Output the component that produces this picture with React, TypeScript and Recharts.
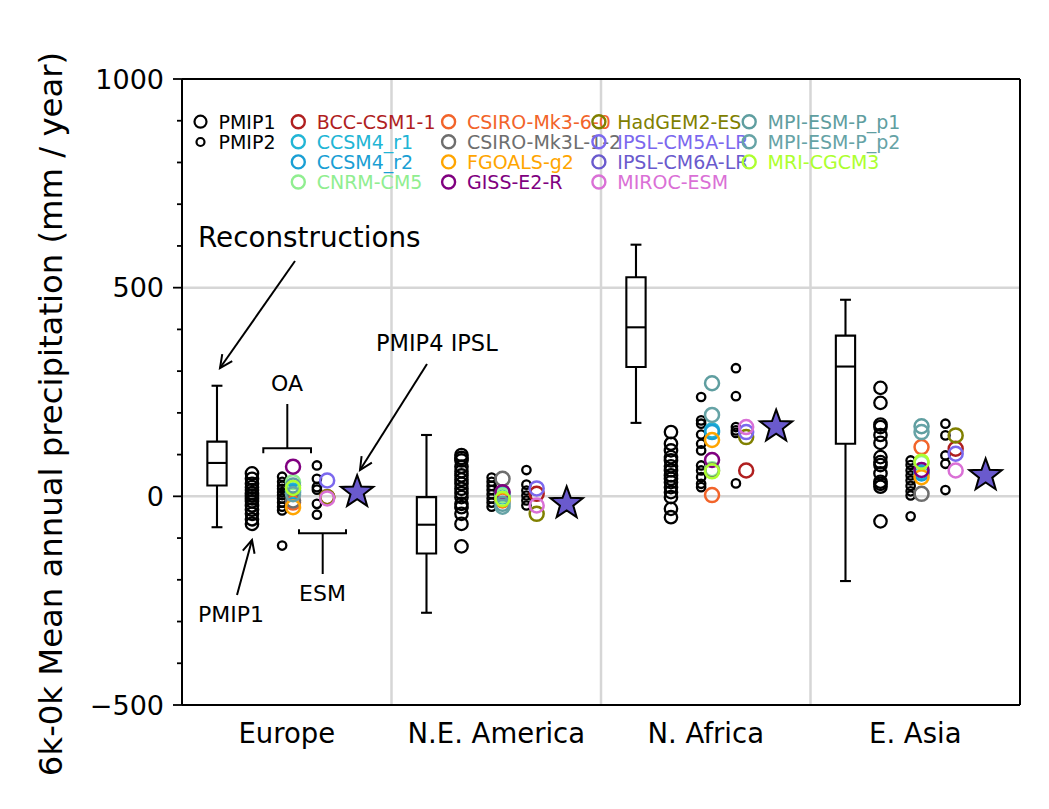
import React from 'react';
import {
  ComposedChart,
  Scatter,
  XAxis,
  YAxis,
  CartesianGrid,
  ReferenceArea,
  ReferenceLine,
} from 'recharts';

// ---------------- data ----------------
const regions = ['Europe', 'N.E. America', 'N. Africa', 'E. Asia'];
const yTickValues = [-500, -400, -300, -200, -100, 0, 100, 200, 300, 400, 500, 600, 700, 800, 900, 1000];

// reconstructions box plots
const boxLow = [-74, -279, 176, -203];
const boxQ1 = [26, -137, 310, 126];
const boxMedian = [80, -68, 405, 311];
const boxQ3 = [131, -2, 525, 385];
const boxHigh = [265, 147, 603, 471];

// PMIP1 models per region
const pmip1Europe = [55, 42, 30, 22, 15, 8, 2, -5, -12, -22, -32, -42, -55, -66];
const pmip1NEAmerica = [99, 92, 86, 71, 60, 50, 40, 30, 18, 8, -2, -18, -26, -42, -66, -120];
const pmip1NAfrica = [154, 126, 110, 94, 86, 72, 62, 50, 42, 34, 22, 10, -2, -30, -50];
const pmip1EAsia = [260, 224, 172, 166, 147, 128, 94, 82, 75, 55, 35, 30, 23, -60];

// PMIP2 models (OA group) per region
const pmip2OAEurope = [47, 35, 25, 18, 10, 3, -5, -15, -25, -34, -118];
const pmip2OANEAmerica = [45, 35, 25, 15, 5, -5, -15, -25];
const pmip2OANAfrica = [238, 182, 174, 148, 126, 110, 74, 62, 46, 30, 22];
const pmip2OAEAsia = [86, 75, 62, 50, 38, 25, 12, 2, -48];

// PMIP2 models (ESM group) per region
const pmip2ESMEurope = [74, 42, 22, 16, -18, -44];
const pmip2ESMNEAmerica = [63, 28, 14, 2, -10, -22];
const pmip2ESMNAfrica = [307, 240, 166, 158, 152, 31];
const pmip2ESMEAsia = [174, 146, 98, 78, 15];

// PMIP3 OA models: [Europe, N.E. America, N. Africa, E. Asia]
const ccsm4r1 = [14, 6, 158, 58];
const ccsm4r2 = [10, 0, 154, 55];
const cnrmCM5 = [34, 2, 65, 80];
const csiroMk360 = [-15, -10, 3, 118];
const csiroMk3L12 = [-10, 42, 62, 6];
const fgoalsG2 = [-26, -8, 135, 46];
const gissE2R = [71, 10, 87, 63];
const mpiP1 = [26, -18, 271, 168];
const mpiP2 = [5, -25, 195, 154];
const mriCGCM3 = [20, -6, 60, 83];

// PMIP3 ESM models
const bccCSM11 = [-2, 6, 62, 114];
const hadGEM2ES = [-2, -42, 142, 146];
const ipslCM5A = [38, 19, 154, 102];
const mirocESM = [-5, -22, 166, 62];

// PMIP4 IPSL
const pmip4IPSL = [10, -17, 167, 50];

// ---------------- styles / layout ----------------
const FONT = 'DejaVu Sans, Verdana, sans-serif';
const W = 1030;
const H = 790;
const OFF_BOX = 0.167;
const OFF_PMIP1 = 0.334;
const OFF_PMIP2_OA = 0.478;
const OFF_OA = 0.53;
const OFF_PMIP2_ESM = 0.644;
const OFF_ESM = 0.693;
const OFF_STAR = 0.836;
const BOX_HALF = 0.046;
const CAP_HALF = 0.026;
const LW = 2.1;

const oaModels = [
  { name: 'CCSM4_r1', color: '#22b5d5', values: ccsm4r1 },
  { name: 'CCSM4_r2', color: '#1a9fd4', values: ccsm4r2 },
  { name: 'CNRM-CM5', color: '#90ee90', values: cnrmCM5 },
  { name: 'CSIRO-Mk3-6-0', color: '#f2642a', values: csiroMk360 },
  { name: 'CSIRO-Mk3L-1-2', color: '#6e6e6e', values: csiroMk3L12 },
  { name: 'FGOALS-g2', color: '#ffa500', values: fgoalsG2 },
  { name: 'GISS-E2-R', color: '#800080', values: gissE2R },
  { name: 'MPI-ESM-P_p1', color: '#5f9ea0', values: mpiP1 },
  { name: 'MPI-ESM-P_p2', color: '#66a3a6', values: mpiP2 },
  { name: 'MRI-CGCM3', color: '#adff2f', values: mriCGCM3 },
];
const esmModels = [
  { name: 'BCC-CSM1-1', color: '#b01f1f', values: bccCSM11 },
  { name: 'HadGEM2-ES', color: '#808000', values: hadGEM2ES },
  { name: 'IPSL-CM5A-LR', color: '#7b68ee', values: ipslCM5A },
  { name: 'MIROC-ESM', color: '#da70d6', values: mirocESM },
];

const legendColumns = [
  [
    { name: 'BCC-CSM1-1', color: '#b01f1f' },
    { name: 'CCSM4_r1', color: '#22b5d5' },
    { name: 'CCSM4_r2', color: '#1a9fd4' },
    { name: 'CNRM-CM5', color: '#90ee90' },
  ],
  [
    { name: 'CSIRO-Mk3-6-0', color: '#f2642a' },
    { name: 'CSIRO-Mk3L-1-2', color: '#6e6e6e' },
    { name: 'FGOALS-g2', color: '#ffa500' },
    { name: 'GISS-E2-R', color: '#800080' },
  ],
  [
    { name: 'HadGEM2-ES', color: '#808000' },
    { name: 'IPSL-CM5A-LR', color: '#7b68ee' },
    { name: 'IPSL-CM6A-LR', color: '#6a5acd' },
    { name: 'MIROC-ESM', color: '#da70d6' },
  ],
  [
    { name: 'MPI-ESM-P_p1', color: '#5f9ea0' },
    { name: 'MPI-ESM-P_p2', color: '#66a3a6' },
    { name: 'MRI-CGCM3', color: '#adff2f' },
  ],
];

const pmip1 = [pmip1Europe, pmip1NEAmerica, pmip1NAfrica, pmip1EAsia];
const pmip2OA = [pmip2OAEurope, pmip2OANEAmerica, pmip2OANAfrica, pmip2OAEAsia];
const pmip2ESM = [pmip2ESMEurope, pmip2ESMNEAmerica, pmip2ESMNAfrica, pmip2ESMEAsia];

const spread = (groups: number[][], off: number) =>
  groups.flatMap((vals, r) => vals.map((v) => ({ x: r + off, y: v })));
const perRegion = (vals: number[], off: number) => vals.map((v, r) => ({ x: r + off, y: v }));

const pmip1Data = spread(pmip1, OFF_PMIP1);
const pmip2OAData = spread(pmip2OA, OFF_PMIP2_OA);
const pmip2ESMData = spread(pmip2ESM, OFF_PMIP2_ESM);
const starData = perRegion(pmip4IPSL, OFF_STAR);

const bigCircle = (p: any) => (
  <circle cx={p.cx} cy={p.cy} r={6.2} fill="none" stroke="#000" strokeWidth={2.3} />
);
const smallCircle = (p: any) => (
  <circle cx={p.cx} cy={p.cy} r={4.2} fill="none" stroke="#000" strokeWidth={2.3} />
);
const modelCircle = (color: string) => (p: any) => (
  <circle cx={p.cx} cy={p.cy} r={7} fill="none" stroke={color} strokeWidth={2.5} />
);
const starPoints = (cx: number, cy: number, ro: number, ri: number) => {
  const pts: string[] = [];
  for (let i = 0; i < 10; i++) {
    const r = i % 2 === 0 ? ro : ri;
    const a = -Math.PI / 2 + (i * Math.PI) / 5;
    pts.push(`${cx + r * Math.cos(a)},${cy + r * Math.sin(a)}`);
  }
  return pts.join(' ');
};
const starShape = (p: any) => (
  <polygon points={starPoints(p.cx, p.cy, 17, 7)} fill="#6a5acd" stroke="#000" strokeWidth={2} />
);

const YTick = (props: any) => {
  const { x, y, payload } = props;
  const major = payload.value % 500 === 0;
  return (
    <g>
      <line x1={x - (major ? 9 : 5)} x2={x} y1={y} y2={y} stroke="#000" strokeWidth={1.8} />
      {major && (
        <text
          x={x - 18}
          y={y}
          dy="0.36em"
          textAnchor="end"
          fontSize={27}
          fontFamily={FONT}
          fill="#000"
        >
          {payload.value < 0 ? `\u2212${Math.abs(payload.value)}` : payload.value}
        </text>
      )}
    </g>
  );
};

const XTick = (props: any) => {
  const { x, y, payload } = props;
  const idx = Math.round(payload.value - 0.5);
  return (
    <text x={x} y={y + 38} textAnchor="middle" fontSize={27.5} fontFamily={FONT} fill="#000">
      {regions[idx]}
    </text>
  );
};

const Arrow = ({ x1, y1, x2, y2 }: { x1: number; y1: number; x2: number; y2: number }) => {
  const a = Math.atan2(y2 - y1, x2 - x1);
  const L = 14;
  const t = 0.45;
  const hx1 = x2 - L * Math.cos(a - t);
  const hy1 = y2 - L * Math.sin(a - t);
  const hx2 = x2 - L * Math.cos(a + t);
  const hy2 = y2 - L * Math.sin(a + t);
  return (
    <g stroke="#000" strokeWidth={2} fill="none">
      <line x1={x1} y1={y1} x2={x2} y2={y2} />
      <polyline points={`${hx1},${hy1} ${x2},${y2} ${hx2},${hy2}`} />
    </g>
  );
};

export default function App() {
  return (
    <div style={{ position: 'relative', width: W, height: H, fontFamily: FONT }}>
      <ComposedChart width={W} height={H} margin={{ top: 71, right: 18, bottom: 33, left: 74 }}>
        <CartesianGrid
          horizontalValues={[0, 500]}
          verticalValues={[1, 2, 3]}
          stroke="#d6d6d6"
          strokeWidth={2.5}
        />
        <XAxis
          type="number"
          dataKey="x"
          domain={[0, 4]}
          ticks={[0.5, 1.5, 2.5, 3.5]}
          interval={0}
          allowDataOverflow
          height={60}
          tickSize={0}
          tickMargin={0}
          tickLine={false}
          axisLine={{ stroke: '#000', strokeWidth: 2 }}
          tick={<XTick />}
        />
        <YAxis
          type="number"
          dataKey="y"
          domain={[-500, 1000]}
          ticks={yTickValues}
          interval={0}
          allowDataOverflow
          width={100}
          tickSize={0}
          tickMargin={0}
          tickLine={false}
          axisLine={{ stroke: '#000', strokeWidth: 2 }}
          tick={<YTick />}
        />
        <ReferenceLine y={1000} stroke="#000" strokeWidth={2} />
        <ReferenceLine x={4} stroke="#000" strokeWidth={2} />

        {regions.map((_, r) => (
          <ReferenceArea
            key={`box${r}`}
            x1={r + OFF_BOX - BOX_HALF}
            x2={r + OFF_BOX + BOX_HALF}
            y1={boxQ1[r]}
            y2={boxQ3[r]}
            fill="none"
            fillOpacity={0}
            stroke="#000"
            strokeWidth={LW}
            strokeOpacity={1}
          />
        ))}
        {regions.map((_, r) => (
          <ReferenceLine
            key={`med${r}`}
            segment={[
              { x: r + OFF_BOX - BOX_HALF, y: boxMedian[r] },
              { x: r + OFF_BOX + BOX_HALF, y: boxMedian[r] },
            ]}
            stroke="#000"
            strokeWidth={LW}
          />
        ))}
        {regions.map((_, r) => (
          <ReferenceLine
            key={`wh${r}`}
            segment={[
              { x: r + OFF_BOX, y: boxQ3[r] },
              { x: r + OFF_BOX, y: boxHigh[r] },
            ]}
            stroke="#000"
            strokeWidth={LW}
          />
        ))}
        {regions.map((_, r) => (
          <ReferenceLine
            key={`wl${r}`}
            segment={[
              { x: r + OFF_BOX, y: boxLow[r] },
              { x: r + OFF_BOX, y: boxQ1[r] },
            ]}
            stroke="#000"
            strokeWidth={LW}
          />
        ))}
        {regions.map((_, r) => (
          <ReferenceLine
            key={`ch${r}`}
            segment={[
              { x: r + OFF_BOX - CAP_HALF, y: boxHigh[r] },
              { x: r + OFF_BOX + CAP_HALF, y: boxHigh[r] },
            ]}
            stroke="#000"
            strokeWidth={LW}
          />
        ))}
        {regions.map((_, r) => (
          <ReferenceLine
            key={`cl${r}`}
            segment={[
              { x: r + OFF_BOX - CAP_HALF, y: boxLow[r] },
              { x: r + OFF_BOX + CAP_HALF, y: boxLow[r] },
            ]}
            stroke="#000"
            strokeWidth={LW}
          />
        ))}

        <Scatter data={pmip1Data} shape={bigCircle} isAnimationActive={false} />
        <Scatter data={pmip2OAData} shape={smallCircle} isAnimationActive={false} />
        <Scatter data={pmip2ESMData} shape={smallCircle} isAnimationActive={false} />
        {oaModels.map((m) => (
          <Scatter
            key={m.name}
            name={m.name}
            data={perRegion(m.values, OFF_OA)}
            shape={modelCircle(m.color)}
            isAnimationActive={false}
          />
        ))}
        {esmModels.map((m) => (
          <Scatter
            key={m.name}
            name={m.name}
            data={perRegion(m.values, OFF_ESM)}
            shape={modelCircle(m.color)}
            isAnimationActive={false}
          />
        ))}
        <Scatter data={starData} shape={starShape} isAnimationActive={false} />
      </ComposedChart>

      <svg
        width={W}
        height={H}
        style={{ position: 'absolute', left: 0, top: 0, pointerEvents: 'none' }}
      >
        <g transform="translate(-8,-8)" fontFamily={FONT}>
          {/* y axis label */}
          <text
            x={50}
            y={414}
            transform="rotate(-90 50 414)"
            textAnchor="middle"
            dy="0.36em"
            fontSize={32.3}
            fill="#000"
          >
            6k-0k Mean annual precipitation (mm / year)
          </text>

          {/* legend */}
          <circle cx={200.5} cy={121.7} r={6} fill="none" stroke="#000" strokeWidth={2.2} />
          <text x={218.5} y={121.7} dy="0.36em" fontSize={19} fill="#000">PMIP1</text>
          <circle cx={200.5} cy={142} r={4} fill="none" stroke="#000" strokeWidth={2.2} />
          <text x={218.5} y={142} dy="0.36em" fontSize={19} fill="#000">PMIP2</text>
          {legendColumns.map((col, ci) =>
            col.map((item, ri) => (
              <g key={item.name}>
                <circle
                  cx={298.3 + ci * 150.3}
                  cy={121.7 + ri * 20.1}
                  r={6.5}
                  fill="none"
                  stroke={item.color}
                  strokeWidth={2.4}
                />
                <text
                  x={316.7 + ci * 150.3}
                  y={121.7 + ri * 20.1}
                  dy="0.36em"
                  fontSize={19}
                  fill={item.color}
                >
                  {item.name}
                </text>
              </g>
            ))
          )}

          {/* annotations */}
          <text x={198} y={247} fontSize={27.8} fill="#000">Reconstructions</text>
          <Arrow x1={295} y1={261} x2={220} y2={368} />

          <text x={376} y={351} fontSize={22.5} fill="#000">PMIP4 IPSL</text>
          <Arrow x1={427} y1={364} x2={360} y2={470} />

          <text x={287} y={391} fontSize={22} textAnchor="middle" fill="#000">OA</text>
          <g stroke="#000" strokeWidth={2} fill="none">
            <line x1={287.3} y1={404} x2={287.3} y2={448.3} />
            <polyline points="263.3,453.3 263.3,448.3 311,448.3 311,453.3" />
            <polyline points="299,529.3 299,533.3 346,533.3 346,529.3" />
            <line x1={322.7} y1={533.3} x2={322.7} y2={574} />
          </g>
          <text x={322.5} y={601} fontSize={22} textAnchor="middle" fill="#000">ESM</text>

          <text x={198} y={622} fontSize={22} fill="#000">PMIP1</text>
          <Arrow x1={237} y1={595} x2={252} y2={540} />
        </g>
      </svg>
    </div>
  );
}
